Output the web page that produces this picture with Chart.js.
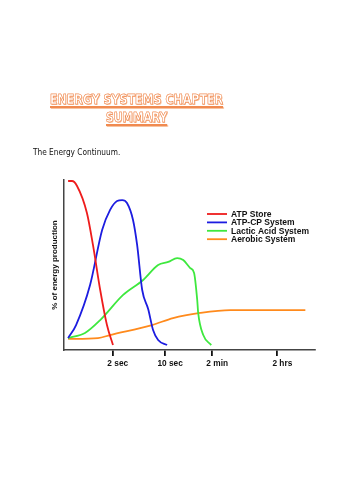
<!DOCTYPE html>
<html><head><meta charset="utf-8">
<script src="https://cdn.jsdelivr.net/npm/chart.js@4"></script>
<style>
html,body{margin:0;padding:0;background:#fff;width:354px;height:500px;overflow:hidden;}
#wrap{position:relative;width:354px;height:500px;}
#c{position:absolute;left:0;top:0;}
.fit{position:absolute;white-space:nowrap;transform-origin:0 50%;line-height:1;}
.big{font-family:"DejaVu Sans",sans-serif;font-weight:bold;color:#fff;-webkit-text-stroke:0.6px #f08a50;text-shadow:1px 1px 0 #f8c3a0;text-decoration:underline;text-decoration-color:#f08a50;text-decoration-thickness:1.5px;text-underline-offset:2px;font-size:14px;}
.sub{font-family:"DejaVu Sans",sans-serif;color:#111;font-size:8.5px;}
</style></head>
<body><div id="wrap">
<div class="fit big" data-l="50" data-c="99" data-w="173">ENERGY SYSTEMS CHAPTER</div>
<div class="fit big" data-l="106" data-c="117" data-w="61">SUMMARY</div>
<div class="fit sub" data-l="33" data-c="152" data-w="87">The Energy Continuum.</div>
<canvas id="c" width="354" height="500"></canvas>
</div>
<script>
// ---- data (x: position along the time axis 0-104, y: % of energy production 0-100)
const seriesLabels = ['ATP Store', 'ATP-CP System', 'Lactic Acid System', 'Aerobic System'];
const atpStore = [[1.7,99.4],[3.3,99.4],[5.4,96.5],[9.5,80.6],[12,61.8],[15,35.3],[17.8,14.7],[20.3,2.9]];
const atpCp = [[1.7,7],[5,14.7],[10.8,38.2],[15.8,70.6],[19.1,82.4],[22,87.6],[24.1,88.2],[26.1,86.5],[28.6,76.5],[30.3,61.8],[32.4,35.3],[34.9,24],[36.9,11.8],[39,5.9],[42.7,2.9]];
const lacticAcid = [[1.7,7],[8.7,10],[15,17.6],[24.5,32.4],[32.8,41.2],[39,50],[43.2,51.8],[46.9,54.1],[49.4,52.9],[52.3,48.2],[53.9,45.3],[55.2,29.4],[55.6,21.8],[57.7,8.8],[61,2.9]];
const aerobic = [[1.7,6.5],[14.1,7],[19.1,8.8],[36.5,14.7],[45.2,18.8],[56.4,21.8],[68.9,23.5],[88.4,23.5],[100,23.5]];
const tickValues = [20.2, 41.9, 61.4, 88.4];
const tickLabels = ['2 sec', '10 sec', '2 min', '2 hrs'];
const yAxisTitle = '% of energy production';

const colors = ['#ee1c1c', '#1c1ce0', '#3ee83e', '#ff8a1c'];
const seriesData = [atpStore, atpCp, lacticAcid, aerobic];

// fit heading texts
document.querySelectorAll('.fit').forEach(el => {
  const w = el.offsetWidth, h = el.offsetHeight;
  const s = (+el.dataset.w) / w;
  el.style.left = el.dataset.l + 'px';
  el.style.top = (+el.dataset.c - h / 2) + 'px';
  el.style.transform = 'scaleX(' + s + ')';
});

const legendPlugin = {
  id: 'customLegend',
  afterDraw(chart) {
    const ctx = chart.ctx;
    ctx.save();
    ctx.font = 'bold 8.5px "Liberation Sans", Arial, sans-serif';
    ctx.textBaseline = 'middle';
    chart.data.datasets.forEach((ds, i) => {
      const y = 214 + i * 8.4;
      ctx.strokeStyle = ds.borderColor;
      ctx.lineWidth = 1.8;
      ctx.beginPath(); ctx.moveTo(207, y); ctx.lineTo(227, y); ctx.stroke();
      ctx.fillStyle = '#111';
      ctx.fillText(ds.label, 231, y + 0.5);
    });
    ctx.restore();
  }
};

new Chart(document.getElementById('c'), {
  type: 'line',
  data: {
    datasets: seriesData.map((d, i) => ({
      label: seriesLabels[i],
      data: d.map(p => ({x: p[0], y: p[1]})),
      borderColor: colors[i],
      borderWidth: 1.8,
      pointRadius: 0,
      cubicInterpolationMode: 'monotone',
      fill: false
    }))
  },
  options: {
    responsive: false,
    animation: false,
    events: [],
    layout: {padding: {left: 46, top: 180, right: 39, bottom: 120}},
    plugins: {legend: {display: false}, tooltip: {enabled: false}},
    scales: {
      x: {
        type: 'linear', min: 0, max: 104,
        afterBuildTicks(scale) { scale.ticks = tickValues.map(v => ({value: v})); },
        afterFit(scale) { scale.height = 30; },
        ticks: {
          callback: (v, i) => tickLabels[i],
          color: '#111', padding: 3, labelOffset: 5, maxRotation: 0, autoSkip: false,
          font: {family: '"Liberation Sans", Arial, sans-serif', size: 8.3, weight: 'bold'}
        },
        grid: {display: true, drawOnChartArea: false, drawTicks: true, tickLength: 6, color: '#111', lineWidth: 1.8},
        border: {display: true, color: '#444', width: 1.5}
      },
      y: {
        min: 0, max: 100,
        afterFit(scale) { scale.width = 18; },
        ticks: {display: false},
        grid: {display: false},
        border: {display: true, color: '#444', width: 1.5},
        title: {display: true, text: yAxisTitle, color: '#111', padding: {top: 4, bottom: 0},
          font: {family: '"Liberation Sans", Arial, sans-serif', size: 8, weight: 'bold'}}
      }
    }
  },
  plugins: [legendPlugin]
});
</script>
</body></html>
